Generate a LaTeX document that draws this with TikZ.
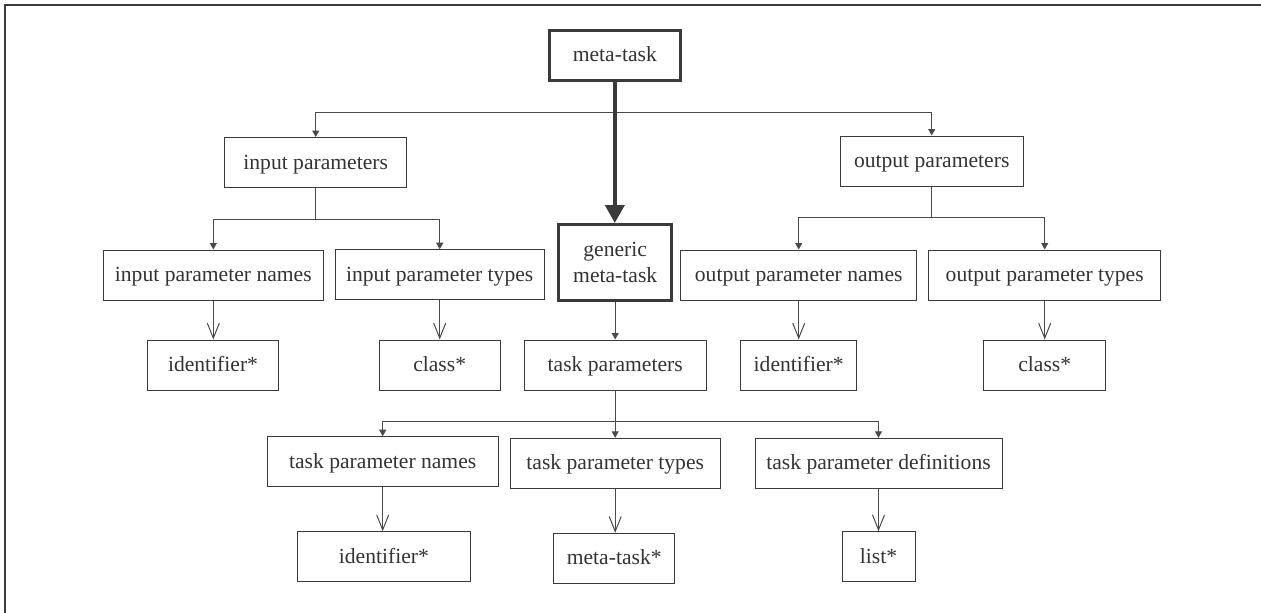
\documentclass[tikz,border=0pt]{standalone}
\usepackage{fontspec}
\setmainfont{Liberation Serif}
\usetikzlibrary{arrows.meta,calc}
\definecolor{ink}{HTML}{333333}
\definecolor{edge}{HTML}{3A3A3A}
\definecolor{wire}{HTML}{4A4A4A}
\begin{document}
\begin{tikzpicture}[x=1pt,y=-1pt,
  base/.style={draw=edge, line width=1pt, text=ink, inner sep=0pt,
    font=\fontsize{21.6}{26.5}\selectfont, align=center, minimum height=50pt},
  box/.style={base, text height=16pt, text depth=3pt},
  boldbox/.style={base, line width=2.6pt},
  plain/.style={draw=wire, line width=1pt},
  lnk/.style={plain, -{Triangle[length=6.5pt,width=7pt]}},
  ref/.style={plain, -{Straight Barb[length=15pt,width=12pt,line width=1pt]}},
  heavy/.style={draw=edge, line width=4pt, -{Triangle[length=18pt,width=19pt]}},
]
\useasboundingbox (0,0) rectangle (1261,613);

% frame
\draw[edge, line width=2pt] (5,613) -- (5,5) -- (1261,5);

% top level
\node[boldbox, minimum width=131pt, text height=16pt, text depth=3pt] (meta) at (614.8,55.3) {meta-task};
\node[box, minimum width=182pt] (inp) at (315.7,162.5) {input parameters};
\node[box, minimum width=183.3pt] (outp) at (931.7,161) {output parameters};
\node[boldbox, minimum width=113pt, minimum height=76pt] (gen) at (615.2,262.3) {generic\\meta-task};

% parameter groups
\node[box, minimum width=220pt] (ipn) at (213.3,275) {input parameter names};
\node[box, minimum width=209.3pt] (ipt) at (439.7,274.7) {input parameter types};
\node[box, minimum width=236pt] (opn) at (798.7,275) {output parameter names};
\node[box, minimum width=232pt] (opt) at (1044.7,275) {output parameter types};

% value kinds
\node[box, minimum width=130.6pt] (id1) at (213,365) {identifier*};
\node[box, minimum width=121.3pt] (cls1) at (439.7,365) {class*};
\node[box, minimum width=181.7pt] (tp) at (615.2,365) {task parameters};
\node[box, minimum width=116pt] (id2) at (798.7,365) {identifier*};
\node[box, minimum width=122pt] (cls2) at (1044.7,365) {class*};

% task parameters
\node[box, minimum width=230.7pt] (tpn) at (382.7,461.7) {task parameter names};
\node[box, minimum width=210.3pt] (tpt) at (615.2,463.3) {task parameter types};
\node[box, minimum width=247pt] (tpd) at (878.5,463.3) {task parameter definitions};

\node[box, minimum width=172.3pt] (id3) at (383.9,556.7) {identifier*};
\node[box, minimum width=120.7pt] (mt3) at (614.2,558.3) {meta-task*};
\node[box, minimum width=73pt] (lst) at (878.5,556.7) {list*};

% branching from meta-task
\coordinate (hub) at ($(meta.south)+(0,30.7)$);
\draw[lnk] (hub) -| (inp.north);
\draw[lnk] (hub) -| (outp.north);
\draw[heavy] (meta.south) -- (meta.south |- gen.north);

% input parameters
\coordinate (ihub) at ($(inp.south)+(0,31.2)$);
\draw[plain] (inp.south) -- (ihub);
\draw[lnk] (ihub) -| (ipn.north);
\draw[lnk] (ihub) -| (ipt.north);

% output parameters
\coordinate (ohub) at ($(outp.south)+(0,31.3)$);
\draw[plain] (outp.south) -- (ohub);
\draw[lnk] (ohub) -| (opn.north);
\draw[lnk] (ohub) -| (opt.north);

% generic meta-task
\draw[lnk] (gen.south) -- (gen.south |- tp.north);

% task parameters
\coordinate (thub) at ($(tp.south)+(0,30.7)$);
\draw[plain] (tp.south) -- (thub);
\draw[lnk] (thub) -| (tpn.north);
\draw[lnk] (thub) -| (tpt.north);
\draw[lnk] (thub) -| (tpd.north);

% value references
\draw[ref] (ipn.south) -- (ipn.south |- id1.north);
\draw[ref] (ipt.south) -- (ipt.south |- cls1.north);
\draw[ref] (opn.south) -- (opn.south |- id2.north);
\draw[ref] (opt.south) -- (opt.south |- cls2.north);
\draw[ref] (tpn.south) -- (tpn.south |- id3.north);
\draw[ref] (tpt.south) -- (tpt.south |- mt3.north);
\draw[ref] (tpd.south) -- (tpd.south |- lst.north);
\end{tikzpicture}
\end{document}
